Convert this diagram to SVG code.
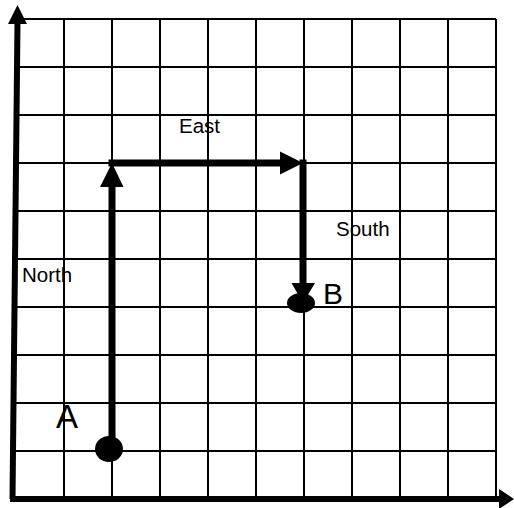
<svg xmlns="http://www.w3.org/2000/svg" width="514" height="508" viewBox="0 0 514 508">
<style>
.grid line{stroke:#000;stroke-width:2}
.axis{stroke:#000;stroke-width:6;fill:none}
.path{stroke:#000;stroke-width:7;fill:none}
.head{fill:#000}
.lbl{font-family:"Liberation Sans",Arial,sans-serif;fill:#000}
</style>
<rect width="514" height="508" fill="#fff"/>
<g id="grid" class="grid">
<line x1="64" y1="19" x2="64" y2="499"/>
<line x1="112" y1="19" x2="112" y2="499"/>
<line x1="160" y1="19" x2="160" y2="499"/>
<line x1="208" y1="19" x2="208" y2="499"/>
<line x1="256" y1="19" x2="256" y2="499"/>
<line x1="304" y1="19" x2="304" y2="499"/>
<line x1="352" y1="19" x2="352" y2="499"/>
<line x1="400" y1="19" x2="400" y2="499"/>
<line x1="448" y1="19" x2="448" y2="499"/>
<line x1="496" y1="19" x2="496" y2="499"/>
<line x1="14" y1="19" x2="496" y2="19"/>
<line x1="14" y1="67" x2="496" y2="67"/>
<line x1="14" y1="115" x2="496" y2="115"/>
<line x1="14" y1="163" x2="496" y2="163"/>
<line x1="14" y1="211" x2="496" y2="211"/>
<line x1="14" y1="259" x2="496" y2="259"/>
<line x1="14" y1="307" x2="496" y2="307"/>
<line x1="14" y1="355" x2="496" y2="355"/>
<line x1="14" y1="403" x2="496" y2="403"/>
<line x1="14" y1="451" x2="496" y2="451"/>
</g>
<g id="axes">
<line class="axis" x1="12.5" y1="499" x2="17.5" y2="22"/>
<polygon class="head" points="17.5,5 8,24 27,24"/>
<line class="axis" x1="10" y1="499" x2="500" y2="499"/>
<polygon class="head" points="514,499 499,489 499,509"/>
</g>
<g id="connectors">
<line class="path" x1="112" y1="450" x2="112" y2="184"/>
<polygon class="head" points="112,163 100,187 123.5,187"/>
<line class="path" x1="108.5" y1="163" x2="282" y2="163"/>
<polygon class="head" points="303,163 280,151.5 280,174.5"/>
<line class="path" x1="303" y1="159.5" x2="303" y2="285"/>
<polygon class="head" points="303,303 291.5,283 315,283"/>
</g>
<g id="A">
<ellipse cx="109" cy="449" rx="14" ry="13" fill="#000"/>
<text class="lbl" x="56" y="428" font-size="33">A</text>
</g>
<g id="B">
<ellipse cx="301" cy="303" rx="14" ry="10" fill="#000"/>
<text class="lbl" x="323" y="304" font-size="30">B</text>
</g>
<g id="labels">
<text class="lbl" x="179" y="133" font-size="20.5">East</text>
<text class="lbl" x="336" y="236" font-size="20.5">South</text>
<text class="lbl" x="22" y="282" font-size="20.5">North</text>
</g>
</svg>
